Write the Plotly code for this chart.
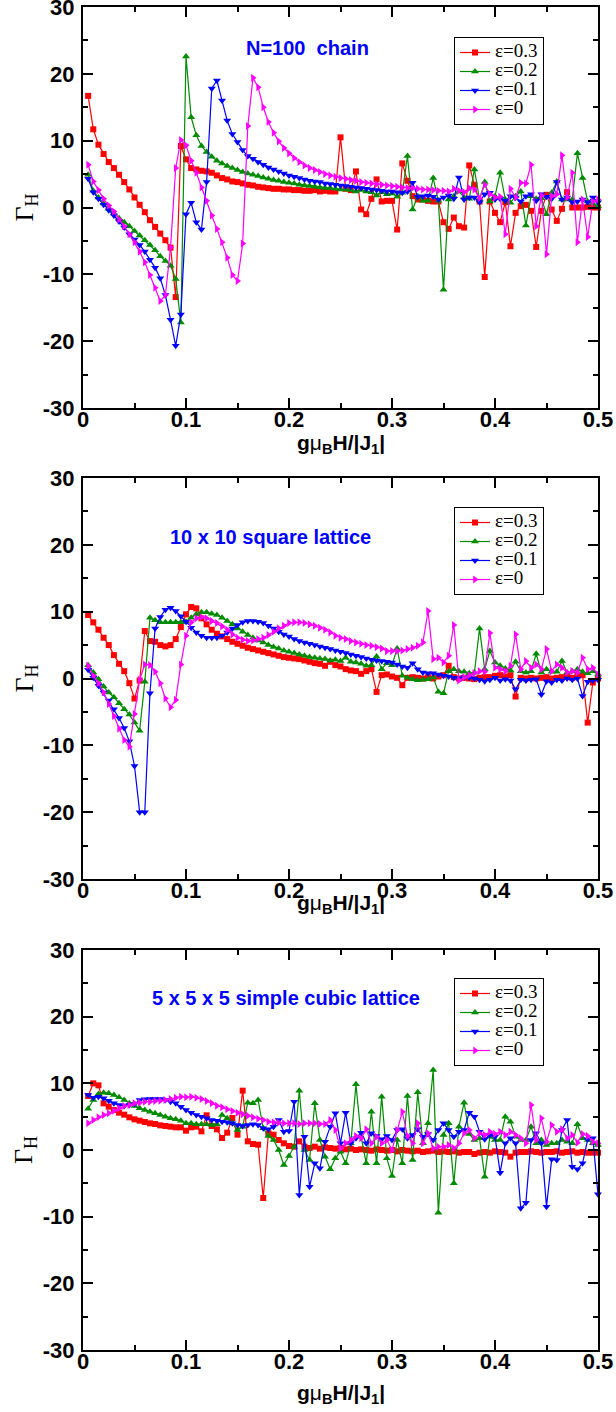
import plotly.graph_objects as go

W, HT = 616, 1412

# field values g*muB*H/|J1|
H = [0.005, 0.01, 0.015, 0.02, 0.025, 0.03, 0.035, 0.04, 0.045, 0.05,
     0.055, 0.06, 0.065, 0.07, 0.075, 0.08, 0.085, 0.09, 0.095, 0.1,
     0.105, 0.11, 0.115, 0.12, 0.125, 0.13, 0.135, 0.14, 0.145, 0.15,
     0.155, 0.16, 0.165, 0.17, 0.175, 0.18, 0.185, 0.19, 0.195, 0.2,
     0.205, 0.21, 0.215, 0.22, 0.225, 0.23, 0.235, 0.24, 0.245, 0.25,
     0.255, 0.26, 0.265, 0.27, 0.275, 0.28, 0.285, 0.29, 0.295, 0.3,
     0.305, 0.31, 0.315, 0.32, 0.325, 0.33, 0.335, 0.34, 0.345, 0.35,
     0.355, 0.36, 0.365, 0.37, 0.375, 0.38, 0.385, 0.39, 0.395, 0.4,
     0.405, 0.41, 0.415, 0.42, 0.425, 0.43, 0.435, 0.44, 0.445, 0.45,
     0.455, 0.46, 0.465, 0.47, 0.475, 0.48, 0.485, 0.49, 0.495, 0.5]

# ---- N=100 chain ----
chain_e03 = [16.7, 11.7, 9.4, 8.0, 6.8, 5.9, 4.9, 3.8, 2.7, 1.5,
             0.4, -0.7, -1.9, -2.9, -3.9, -4.9, -6.0, -13.4, 9.2, 7.2,
             5.9, 5.7, 5.5, 5.4, 5.2, 4.8, 4.4, 4.2, 3.9, 3.8,
             3.6, 3.4, 3.3, 3.1, 3.0, 2.9, 2.8, 2.8, 2.7, 2.7,
             2.6, 2.6, 2.5, 2.5, 2.6, 2.4, 2.5, 2.4, 2.4, 10.5,
             2.8, 2.6, 5.4, -0.3, -1.0, 1.3, 4.2, 0.9, 1.0, 1.0,
             -3.3, 6.6, 4.0, 1.7, 1.2, 1.2, 1.0, 0.9, 0.9, -2.2,
             -3.2, -1.5, -2.8, -3.0, 6.3, 3.4, 0.9, -10.4, 0.9, -0.8,
             -2.2, 0.8, -5.8, -0.8, 0.2, 0.4, -0.5, -5.9, -0.5, 1.9,
             -0.3, -2.0, -0.2, 2.3, 0.0, 0.0, 0.0, 0.1, 0.0, 0.0]
chain_e02 = [4.9, 2.5, 1.5, 0.6, -0.2, -0.9, -1.6, -2.2, -2.8, -3.5,
             -4.2, -4.9, -5.6, -6.4, -7.3, -8.0, -8.7, -10.7, -17.2, 22.6,
             13.5, 10.8, 9.2, 8.3, 7.6, 7.0, 6.6, 6.2, 5.9, 5.6,
             5.3, 5.1, 4.9, 4.7, 4.5, 4.3, 4.1, 4.0, 3.8, 3.7,
             3.6, 3.4, 3.3, 3.2, 3.1, 3.0, 2.9, 2.9, 2.8, 2.7,
             2.7, 2.6, 2.4, 2.6, 2.4, 2.3, 1.8, 2.3, 2.0, 2.1,
             1.6, 2.2, 7.7, -0.3, 1.7, 1.0, 1.0, 4.4, 1.0, -12.3,
             1.2, 1.7, 2.4, 1.5, 1.3, 5.7, 1.2, 3.8, 0.9, 1.7,
             5.2, 1.2, 0.7, 1.7, 2.4, -2.7, 1.7, 1.3, 1.4, -1.0,
             2.2, 3.9, 1.2, 1.2, 1.2, 8.1, 4.4, 0.9, 0.6, 0.2]
chain_e01 = [4.3, 2.3, 1.3, 0.4, -0.4, -1.2, -2.1, -3.0, -4.0, -4.8,
             -5.6, -6.6, -7.8, -9.0, -10.6, -13.1, -16.8, -20.7, -16.0, -1.0,
             0.7, -2.2, -3.3, 3.8, 17.8, 19.0, 16.0, 13.0, 11.0, 9.8,
             8.6, 7.7, 7.3, 6.8, 6.4, 6.0, 5.7, 5.4, 5.1, 4.8,
             4.6, 4.4, 4.2, 4.0, 3.9, 3.8, 3.6, 3.5, 3.4, 3.3,
             3.2, 3.1, 3.0, 2.9, 2.8, 2.7, 2.6, 2.5, 2.4, 2.4,
             2.3, 2.2, 2.4, 3.7, 1.6, 1.7, 1.8, 1.6, 1.2, 1.5,
             1.8, 1.3, 4.5, 1.2, 1.5, 1.5, 0.8, 2.0, 2.2, 1.2,
             1.3, 1.0, 1.7, 1.5, 0.9, 1.7, 2.0, 1.0, 2.0, 1.6,
             1.3, 3.8, 1.2, 1.5, 0.8, 0.9, 1.2, 0.8, 1.5, 0.8]
chain_e0 = [6.4, 3.9, 2.6, 1.3, 0.3, -0.6, -1.8, -2.8, -4.0, -5.2,
            -6.6, -8.2, -10.1, -12.0, -14.0, -13.1, -6.0, 5.9, 10.1, 9.3,
            7.0, 5.2, 3.0, 1.0, -1.2, -3.2, -5.2, -7.5, -10.1, -11.0,
            -5.4, 12.2, 19.4, 18.0, 15.0, 12.8, 11.2, 9.9, 8.9, 8.1,
            7.4, 6.8, 6.3, 5.9, 5.6, 5.3, 5.0, 4.8, 4.6, 4.4,
            4.3, 4.1, 4.0, 3.8, 3.7, 3.6, 3.5, 3.4, 3.3, 3.2,
            3.1, 3.0, 2.9, 2.9, 2.8, 2.7, 2.7, 2.6, 2.5, 2.5,
            2.4, 2.8, 2.5, 2.3, 2.9, 2.7, 1.4, 3.4, 2.0, 1.5,
            1.6, -4.0, 2.8, 1.5, 3.7, 3.6, 6.4, -2.8, 1.8, -7.0,
            1.7, 2.0, 7.8, 1.5, 5.2, -5.2, 1.2, -4.4, 0.9, 1.2]

# ---- 10 x 10 square lattice ----
sq_e03 = [9.5, 8.4, 7.3, 6.1, 5.0, 3.5, 2.2, 1.1, -0.7, -3.0,
          -0.3, 7.1, 5.6, 5.5, 5.0, 4.8, 5.0, 5.9, 7.7, 9.6,
          10.7, 10.5, 9.0, 8.1, 7.3, 6.7, 6.3, 5.9, 5.5, 5.2,
          4.9, 4.6, 4.4, 4.2, 4.0, 3.8, 3.6, 3.4, 3.2, 3.1,
          3.0, 2.9, 2.7, 2.5, 2.3, 2.2, 1.9, 2.5, 2.0, 1.8,
          1.4, 1.2, 1.1, 0.7, 1.1, 1.4, -2.0, 0.5, 0.6, 0.3,
          0.1, -1.0, 0.1, 0.2, 0.1, 0.0, 0.2, 0.0, 0.3, 0.5,
          1.9, 0.2, 0.0, 0.1, 0.0, -0.1, 0.1, 0.2, 0.2, 0.4,
          0.5, 0.3, 0.5, -2.7, 0.1, 0.0, 0.1, 0.0, 0.1, 0.2,
          0.0, 0.1, 0.2, 0.3, 0.1, 0.4, 0.5, -6.6, -0.6, 0.0]
sq_e02 = [2.0, 0.9, -0.1, -1.2, -2.1, -2.8, -3.7, -4.6, -5.4, -6.6,
          -7.8, -0.5, 9.1, 8.7, 8.4, 8.4, 8.4, 8.4, 8.4, 8.5,
          9.1, 9.6, 9.9, 9.9, 9.7, 9.5, 9.1, 8.6, 8.1, 7.5,
          7.0, 6.5, 6.1, 5.7, 5.4, 5.0, 4.7, 4.5, 4.2, 4.0,
          3.8, 3.6, 3.4, 3.2, 3.1, 3.0, 2.9, 2.7, 2.8, 2.6,
          3.1, 2.5, 2.4, 2.2, 1.9, 2.0, 3.3, 1.4, 2.3, 2.0,
          4.5, 0.4, 0.1, -0.1, -0.25, -0.2, -0.1, 0.2, -2.0, -2.2,
          1.1, 1.4, 1.1, 1.0, 0.8, 0.9, 7.5, 1.4, 4.1, 2.4,
          1.9, 1.5, 1.2, 2.5, 1.1, 0.9, 1.1, 3.7, 0.9, 1.4,
          1.0, 1.0, 2.6, 0.9, 1.1, 1.4, 1.0, 0.8, 1.1, 0.6]
sq_e01 = [1.3, 0.1, -1.1, -2.1, -3.3, -4.6, -5.9, -7.4, -9.4, -13.1,
          -20.0, -20.0, -2.2, 7.5, 9.2, 10.3, 10.6, 10.1, 9.3, 8.5,
          7.6, 6.9, 6.4, 6.1, 6.1, 6.1, 6.4, 6.9, 7.5, 8.0,
          8.4, 8.6, 8.6, 8.5, 8.3, 7.9, 7.5, 7.0, 6.6, 6.3,
          5.9, 5.6, 5.4, 5.2, 5.0, 4.8, 4.6, 4.4, 4.2, 4.0,
          3.8, 3.6, 3.4, 3.2, 3.0, 2.8, 2.7, 2.6, 2.5, 2.4,
          2.1, 1.8, 1.6, 2.3, 1.4, 0.9, 0.8, 0.8, 0.6, 0.4,
          0.3, 0.1, 0.0, 0.2, 0.1, 0.0, -0.2, -0.4, -0.2, 0.1,
          -0.3, -0.1, -0.3, -1.6, -0.2, -0.3, -0.2, -0.1, -2.4, -0.4,
          -0.6, -0.2, -0.3, 0.0, -0.2, 0.0, -2.6, -0.5, -0.3, -0.2]
sq_e0 = [1.9, 0.4, -0.7, -2.1, -3.8, -5.6, -7.5, -9.2, -10.2, -5.3,
         -0.2, 2.1, 2.0, 1.0, -0.7, -3.0, -4.3, -3.2, 2.1, 6.4,
         8.4, 9.0, 9.2, 9.0, 8.6, 8.3, 7.8, 7.3, 6.6, 6.1,
         5.8, 5.6, 5.7, 5.9, 6.1, 6.5, 7.0, 7.5, 7.9, 8.3,
         8.4, 8.4, 8.3, 8.1, 7.9, 7.6, 7.3, 6.9, 6.4, 6.1,
         5.9, 5.6, 5.4, 5.2, 5.0, 4.9, 4.7, 4.5, 4.1, 4.1,
         4.1, 4.2, 4.4, 4.6, 4.9, 5.4, 10.1, 2.9, 3.1, 2.4,
         3.4, 8.0, -0.3, 0.2, 0.5, 0.8, 1.1, 1.0, 6.8, 1.6,
         1.4, 1.1, 1.9, 6.6, 1.4, 2.6, 1.6, 2.1, 1.4, 4.4,
         1.1, 2.1, 1.6, 0.9, 1.1, 0.9, 3.1, 1.4, 1.6, 0.6]

# ---- 5 x 5 x 5 simple cubic lattice ----
cub_e03 = [8.1, 10.0, 9.7, 7.0, 6.5, 6.0, 5.6, 5.3, 4.9, 4.6,
           4.4, 4.2, 4.0, 3.9, 3.7, 3.6, 3.5, 3.4, 3.4, 2.9,
           3.4, 3.5, 2.8, 5.2, 3.6, 3.1, 1.8, 2.6, 4.8, 2.3,
           8.9, 1.3, 0.9, 0.8, -7.2, 2.5, 2.3, 1.5, 1.0, 0.6,
           0.5, 1.3, 0.5, 0.3, 0.5, 0.2, 0.4, 0.3, 0.2, 0.3,
           0.1, 0.2, 0.0, 0.1, 0.0, -0.1, 0.1, 0.0, -0.1, 0.0,
           -0.2, 0.0, -0.1, -0.2, -0.1, -0.3, -0.2, -0.1, -0.3, -0.2,
           -0.3, -0.2, -0.4, -0.3, -0.3, -0.6, -0.4, -0.3, -0.4, -0.2,
           -0.3, -0.4, -1.0, -0.4, -0.3, -0.3, -0.2, -0.3, -0.4, -0.3,
           -0.3, -0.2, -0.4, -0.3, -0.2, -0.4, -0.3, -0.4, -0.4, -0.4]
cub_e02 = [6.2, 7.5, 8.4, 8.6, 8.5, 8.25, 7.9, 7.5, 7.0, 6.6,
           6.25, 6.0, 5.75, 5.5, 5.25, 5.0, 4.75, 4.6, 4.4, 4.0,
           4.0, 3.85, 3.85, 3.85, 3.75, 3.85, 5.25, 4.75, 4.0, 3.0,
           3.5, 7.1, 7.0, 7.5, 3.25, 2.1, 1.5, 0.0, -2.25, -0.9,
           0.5, 8.9, 0.0, -1.5, 7.0, 1.5, -1.0, -2.9, -1.25, -0.25,
           -2.0, 1.0, 9.85, 2.0, -2.0, 5.75, -2.0, 8.0, -1.25, -3.9,
           1.5, -2.0, 8.1, -1.5, 8.65, 1.0, 4.0, 12.0, -9.4, 2.25,
           4.0, -5.0, 3.5, 7.1, 2.4, 1.5, 1.75, -4.0, 2.0, 1.5,
           1.5, 5.0, 4.25, 2.0, 1.5, 1.5, 3.5, 1.0, 1.5, 0.75,
           1.0, 1.0, 1.5, 1.25, 1.0, 3.85, 1.75, 1.5, 1.0, 0.75]
cub_e01 = [8.25, 7.85, 8.0, 7.75, 7.4, 7.0, 6.75, 6.6, 6.75, 6.9,
           7.5, 7.6, 7.65, 7.65, 7.65, 7.5, 7.25, 7.0, 6.5, 6.0,
           5.6, 5.25, 5.0, 4.75, 4.5, 4.4, 4.25, 4.15, 4.0, 3.75,
           3.6, 3.75, 3.85, 3.75, 3.25, 3.1, 3.5, 4.5, 2.75, 2.85,
           7.25, -6.75, 2.0, -5.5, -2.0, -2.75, 1.25, 3.5, 5.5, 1.0,
           5.6, 1.0, 1.75, 2.6, 1.0, 2.5, 2.1, 1.6, 2.1, 1.5,
           3.0, 3.1, 1.75, 2.25, 3.1, 2.0, 2.4, 1.5, 3.0, 4.0,
           3.0, 2.0, 2.75, 3.0, 5.6, 5.0, 2.75, 1.6, 2.25, 2.0,
           -3.4, 1.0, 1.75, 1.0, -8.75, -7.9, 1.5, 2.5, 1.0, -8.5,
           -1.4, -1.5, 3.0, 4.5, -2.5, -2.9, -2.0, 1.6, 1.75, -6.65]
cub_e0 = [4.0, 4.5, 4.9, 5.25, 5.5, 5.9, 6.25, 6.6, 6.75, 7.0,
          7.1, 7.25, 7.25, 7.35, 7.4, 7.5, 7.65, 7.85, 8.0, 7.9,
          8.0, 7.85, 7.65, 7.35, 7.0, 6.65, 6.4, 6.1, 5.85, 5.6,
          5.35, 5.15, 4.9, 4.7, 4.5, 4.25, 4.15, 4.1, 4.0, 4.0,
          4.0, 3.9, 4.0, 4.0, 4.0, 3.9, 3.9, 4.5, 3.0, 0.25,
          1.0, 1.5, 2.1, 1.75, 3.1, 1.0, 2.0, 1.0, 1.5, 0.0,
          3.0, 5.75, 2.1, 1.0, 4.0, 1.0, 2.5, 0.25, 0.5, 0.5,
          0.75, 0.25, 1.0, 2.5, 3.0, 1.75, 2.5, 2.25, 2.75, 2.4,
          2.75, 2.25, 2.75, 2.25, 1.75, 1.0, 6.75, 1.5, 4.75, 1.25,
          3.75, 2.75, 3.1, 1.75, 2.25, 1.1, 2.4, 2.1, 1.25, 1.0]

eps_labels = ["ε=0.3", "ε=0.2", "ε=0.1", "ε=0"]
panel_titles = ["N=100\u00a0\u00a0chain", "10 x 10 square lattice",
                "5 x 5 x 5 simple cubic lattice"]
x_ticks = [0, 0.1, 0.2, 0.3, 0.4, 0.5]
x_ticktext = ["0", "0.1", "0.2", "0.3", "0.4", "0.5"]
y_ticks = [-30, -20, -10, 0, 10, 20, 30]
y_ticktext = ["-30", "-20", "-10", "0", "10", "20", "30"]

series_sets = [
    [chain_e03, chain_e02, chain_e01, chain_e0],
    [sq_e03, sq_e02, sq_e01, sq_e0],
    [cub_e03, cub_e02, cub_e01, cub_e0],
]

colors = ["#ff0000", "#008b00", "#0000ff", "#ff00ff"]
symbols = ["square", "triangle-up", "triangle-down", "triangle-right"]
msizes = [6, 7, 7, 7]

# layout geometry (pixels)
plot_left, plot_right = 83, 598
panel_px = [(7, 408), (478, 879), (950, 1350)]
title_pos = [(307, 48), (270, 537), (286, 998)]
legend_top = [37, 507, 978]
xtitle_y = [444, 904, 1394]


def px_x(p):
    return p / W


def px_y(p):
    return 1 - p / HT


fig = go.Figure()
annotations = []
layout = dict(width=W, height=HT,
              margin=dict(l=0, r=0, t=0, b=0, pad=0, autoexpand=False),
              paper_bgcolor="white", plot_bgcolor="white", showlegend=True)

for k in range(3):
    sfx = "" if k == 0 else str(k + 1)
    legname = "legend" if k == 0 else f"legend{k + 1}"
    for j in range(4):
        fig.add_trace(go.Scatter(
            x=H, y=series_sets[k][j], mode="lines+markers",
            name=f'<span style="font-size:19px">{eps_labels[j]}</span>',
            line=dict(color=colors[j], width=1.2),
            marker=dict(symbol=symbols[j], size=msizes[j], color=colors[j],
                        line=dict(width=0)),
            xaxis="x" + sfx, yaxis="y" + sfx, legend=legname,
            cliponaxis=False, showlegend=True))
    top, bot = panel_px[k]
    axcommon = dict(showline=True, linecolor="black", linewidth=2,
                    mirror="ticks", ticks="inside", ticklen=10, tickwidth=2,
                    tickcolor="black", showgrid=False, zeroline=False,
                    automargin=False, ticklabeloverflow="allow",
                    tickfont=dict(family="Liberation Sans, Arial", size=22,
                                  color="black", weight="bold"))
    layout["xaxis" + sfx] = dict(
        axcommon, domain=[px_x(plot_left), px_x(plot_right)],
        range=[0, 0.5], tickvals=x_ticks, ticktext=x_ticktext,
        anchor="y" + sfx, ticklabelstandoff=-9,
        minor=dict(dtick=0.05, tick0=0, ticks="inside", ticklen=5,
                   tickwidth=2, tickcolor="black"))
    layout["yaxis" + sfx] = dict(
        axcommon, domain=[px_y(bot), px_y(top)], range=[-30, 30],
        tickvals=y_ticks, ticktext=y_ticktext, anchor="x" + sfx,
        ticklabelstandoff=2,
        minor=dict(dtick=5, tick0=0, ticks="inside", ticklen=5,
                   tickwidth=2, tickcolor="black"))
    layout[legname] = dict(
        x=px_x(454), y=px_y(legend_top[k]), xanchor="left", yanchor="top",
        bgcolor="white", bordercolor="black", borderwidth=1,
        font=dict(family="Liberation Serif, Times New Roman", size=12,
                  color="black"),
        tracegroupgap=0)
    # panel label
    annotations.append(dict(
        text=panel_titles[k], xref="paper", yref="paper",
        x=px_x(title_pos[k][0]), y=px_y(title_pos[k][1]),
        xanchor="center", yanchor="middle", showarrow=False,
        font=dict(family="Liberation Sans, Arial", size=20, color="#0000ff",
                  weight="bold")))
    # x title
    annotations.append(dict(
        text='g<span style="font-weight:normal">μ</span><sub>B</sub>H/|J<sub>1</sub>|',
        xref="paper", yref="paper",
        x=px_x((plot_left + plot_right) / 2), y=px_y(xtitle_y[k]),
        xanchor="center", yanchor="middle", showarrow=False,
        font=dict(family="Liberation Sans, Arial", size=21, color="black",
                  weight="bold")))
    # y title
    annotations.append(dict(
        text="Γ<sub>H</sub>", xref="paper", yref="paper",
        x=px_x(25), y=px_y((top + bot) / 2), textangle=-90,
        xanchor="center", yanchor="middle", showarrow=False,
        font=dict(family="Liberation Serif, Times New Roman", size=26,
                  color="black")))

layout["annotations"] = annotations
fig.update_layout(**layout)
fig.write_html("out.html")
